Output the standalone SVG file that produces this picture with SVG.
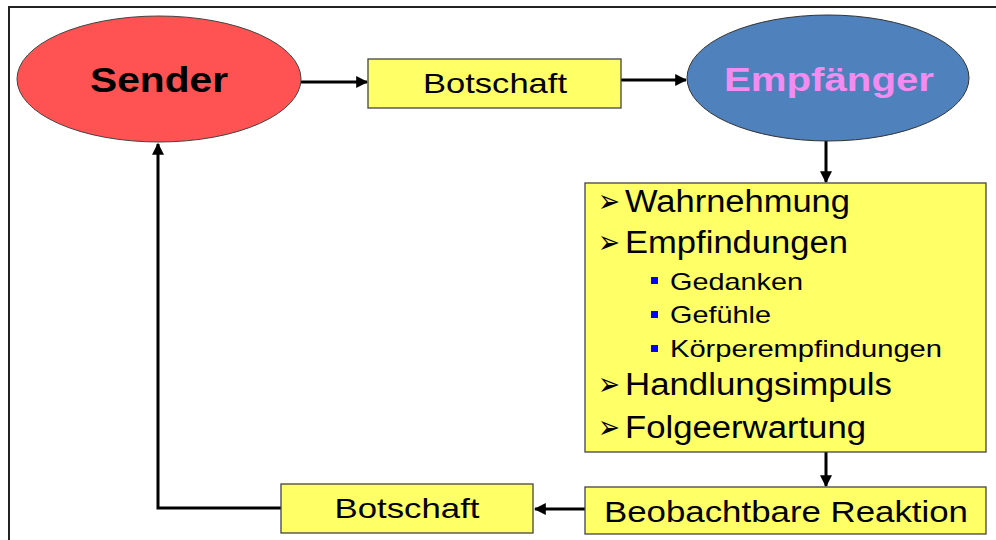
<svg xmlns="http://www.w3.org/2000/svg" width="996" height="540" viewBox="0 0 996 540">
<defs>
<marker id="ah" viewBox="0 0 10 10" refX="9" refY="5" markerWidth="4" markerHeight="4" orient="auto" markerUnits="strokeWidth">
<path d="M0,0 L10,5 L0,10 z" fill="#000"/>
</marker>
<style>
.box{fill:#FFFF66;stroke:#444;stroke-width:1.3}
.t{font-family:"Liberation Sans",Arial,sans-serif;fill:#000}
.b{font-weight:bold}
.c{stroke:#000;stroke-width:3;fill:none}
.arr{marker-end:url(#ah)}
.sym{font-family:"DejaVu Sans",sans-serif;fill:#000}
.sq{fill:#0000FF}
</style>
</defs>
<rect x="0" y="0" width="996" height="540" fill="#fff"/>
<g id="frame">
<line x1="8" y1="7" x2="996" y2="7" stroke="#222" stroke-width="2"/>
<line x1="9" y1="6" x2="9" y2="540" stroke="#222" stroke-width="2"/>
</g>
<g id="connectors">
<line class="c arr" x1="301" y1="82" x2="367" y2="82"/>
<line class="c arr" x1="621" y1="80" x2="686" y2="80"/>
<line class="c arr" x1="826" y1="141" x2="826" y2="182"/>
<line class="c arr" x1="826" y1="452" x2="826" y2="486"/>
<line class="c arr" x1="585" y1="509" x2="535" y2="509"/>
<polyline class="c arr" points="281,508 158,508 158,144"/>
</g>
<g id="sender">
<ellipse cx="159" cy="79" rx="142" ry="63" fill="#FF5252" stroke="#444" stroke-width="1"/>
<text class="t b" x="159" y="92" font-size="35" text-anchor="middle" textLength="138" lengthAdjust="spacingAndGlyphs">Sender</text>
</g>
<g id="botschaft1">
<rect class="box" x="368" y="59" width="253" height="49"/>
<text class="t" x="495" y="93" font-size="28" text-anchor="middle" textLength="144" lengthAdjust="spacingAndGlyphs">Botschaft</text>
</g>
<g id="empfaenger">
<ellipse cx="828" cy="78" rx="141" ry="63" fill="#4F81BD" stroke="#333" stroke-width="1"/>
<text class="b" x="829" y="91" font-size="34" text-anchor="middle" font-family="Liberation Sans, Arial, sans-serif" fill="#F28CF0" textLength="210" lengthAdjust="spacingAndGlyphs">Empfänger</text>
</g>
<g id="prozess">
<rect class="box" x="585" y="183" width="401" height="269"/>
<text class="sym" x="598" y="212" font-size="32" textLength="22" lengthAdjust="spacingAndGlyphs">➢</text>
<text class="t" x="625" y="212" font-size="31" textLength="225" lengthAdjust="spacingAndGlyphs">Wahrnehmung</text>
<text class="sym" x="598" y="253" font-size="32" textLength="22" lengthAdjust="spacingAndGlyphs">➢</text>
<text class="t" x="625" y="253" font-size="31" textLength="223" lengthAdjust="spacingAndGlyphs">Empfindungen</text>
<rect class="sq" x="651" y="277" width="7" height="7"/>
<text class="t" x="670" y="290" font-size="24" textLength="133" lengthAdjust="spacingAndGlyphs">Gedanken</text>
<rect class="sq" x="651" y="311" width="7" height="7"/>
<text class="t" x="670" y="323" font-size="24" textLength="101" lengthAdjust="spacingAndGlyphs">Gefühle</text>
<rect class="sq" x="651" y="345" width="7" height="7"/>
<text class="t" x="670" y="357" font-size="24" textLength="272" lengthAdjust="spacingAndGlyphs">Körperempfindungen</text>
<text class="sym" x="598" y="395" font-size="32" textLength="22" lengthAdjust="spacingAndGlyphs">➢</text>
<text class="t" x="625" y="395" font-size="31" textLength="267" lengthAdjust="spacingAndGlyphs">Handlungsimpuls</text>
<text class="sym" x="598" y="438" font-size="32" textLength="22" lengthAdjust="spacingAndGlyphs">➢</text>
<text class="t" x="625" y="438" font-size="31" textLength="241" lengthAdjust="spacingAndGlyphs">Folgeerwartung</text>
</g>
<g id="reaktion">
<rect class="box" x="585" y="487" width="401" height="47"/>
<text class="t" x="786" y="522" font-size="30" text-anchor="middle" textLength="364" lengthAdjust="spacingAndGlyphs">Beobachtbare Reaktion</text>
</g>
<g id="botschaft2">
<rect class="box" x="281" y="484" width="252" height="49"/>
<text class="t" x="407" y="518" font-size="28" text-anchor="middle" textLength="145" lengthAdjust="spacingAndGlyphs">Botschaft</text>
</g>
</svg>
